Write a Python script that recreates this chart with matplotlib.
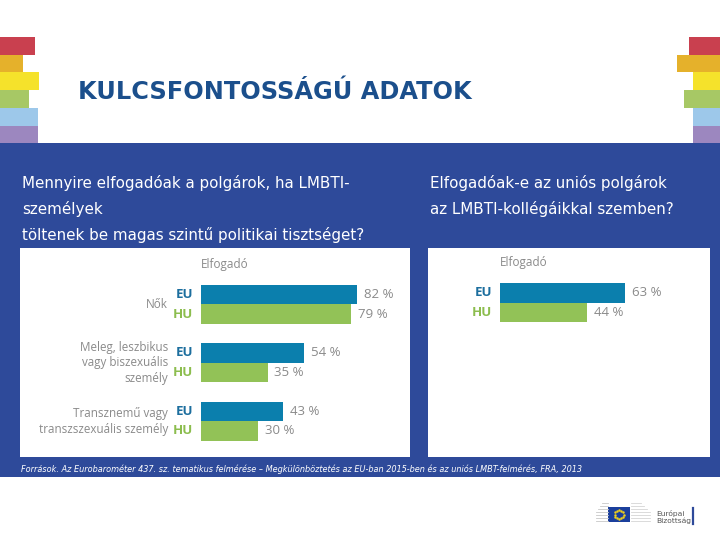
import numpy as np
import matplotlib
matplotlib.use("Agg")
import matplotlib.pyplot as plt
from matplotlib.patches import Rectangle

# -----------------------------------------------
# DATA
# -----------------------------------------------
title = "KULCSFONTOSSÁGÚ ADATOK"
question_left = ["Mennyire elfogadóak a polgárok, ha LMBTI-",
                 "személyek",
                 "töltenek be magas szintű politikai tisztséget?"]
question_right = ["Elfogadóak-e az uniós polgárok",
                  "az LMBTI-kollégáikkal szemben?"]
header = "Elfogadó"
series_names = ["EU", "HU"]

left_categories = ["Nők",
                   "Meleg, leszbikus\nvagy biszexuális\nszemély",
                   "Transznemű vagy\ntranszszexuális személy"]
left_eu = [82, 54, 43]
left_hu = [79, 35, 30]

right_eu = [63]
right_hu = [44]

source = ("Források. Az Eurobarométer 437. sz. tematikus felmérése – "
          "Megkülönböztetés az EU-ban 2015-ben és az uniós LMBT-felmérés, FRA, 2013")
logo_text = "Európai\nBizottság"

# -----------------------------------------------
# STYLE
# -----------------------------------------------
W, H = 720, 540
BLUE_BG = "#2E4A9A"
EU_BAR = "#0B7FAD"
HU_BAR = "#92C257"
EU_TXT = "#1C6E9E"
HU_TXT = "#8CBD4E"
GREY = "#8A8A8A"
STRIPES = ["#C9404F", "#E5B12B", "#F5E22B", "#A7C865", "#9DC8EA", "#9C87BF"]
LEFT_W = [35, 23, 39, 29, 38, 38]
RIGHT_X = [689, 677, 693, 684, 693, 693]

fig = plt.figure(figsize=(W / 100, H / 100), dpi=100)
bg = fig.add_axes([0, 0, 1, 1])
bg.set_xlim(0, W)
bg.set_ylim(H, 0)
bg.axis("off")

# rainbow stripes
for i, c in enumerate(STRIPES):
    y0 = 37 + i * 17.7
    bg.add_patch(Rectangle((0, y0), LEFT_W[i], 17.8, color=c, lw=0))
    bg.add_patch(Rectangle((RIGHT_X[i], y0), W - RIGHT_X[i], 17.8, color=c, lw=0))

bg.text(78, 92, title, color="#1B4F8C", fontsize=17.3, fontweight="bold",
        family="DejaVu Sans", va="center", ha="left")

# blue band + white panels
bg.add_patch(Rectangle((0, 143), W, 334, color=BLUE_BG, lw=0))
bg.add_patch(Rectangle((20, 248), 390, 209, color="white", lw=0))
bg.add_patch(Rectangle((428, 248), 282, 209, color="white", lw=0))

for i, line in enumerate(question_left):
    bg.text(22, 183 + i * 26, line, color="white", fontsize=10.9, va="center",
            family="DejaVu Sans")
for i, line in enumerate(question_right):
    bg.text(430, 183 + i * 26, line, color="white", fontsize=10.9, va="center",
            family="DejaVu Sans")

bg.text(21, 469, source, color="white", fontsize=5.85, style="italic",
        va="center", family="DejaVu Sans")

# logo
for k in range(7):
    yy = 503 + k * 3
    bg.plot([596 + max(0, 3 - k) * 2, 608], [yy, yy], color="#C8C8C8", lw=0.6)
    bg.plot([631, 650 - max(0, 3 - k) * 3], [yy, yy], color="#D5D5D5", lw=0.6)
bg.add_patch(Rectangle((608, 507), 22, 15, color="#1B3F9C", lw=0))
ang = np.linspace(0, 2 * np.pi, 13)[:-1]
bg.scatter(619 + 4.5 * np.cos(ang), 514.5 + 4.5 * np.sin(ang), s=0.6,
           color="#F2D21B", zorder=5)
bg.text(656, 517, logo_text, color="#555555", fontsize=5.4, va="center",
        linespacing=1.1)
bg.plot([693, 693], [508, 524], color=BLUE_BG, lw=1.6)


def px_axes(x0, y0, x1, y1):
    return fig.add_axes([x0 / W, 1 - y1 / H, (x1 - x0) / W, (y1 - y0) / H])


def bar_chart(ax, eu, hu, px_per_pct, cats=None):
    pos = np.arange(len(eu)) * 3
    ax.barh(pos, eu, height=1, color=EU_BAR, align="center")
    ax.barh(pos + 1, hu, height=1, color=HU_BAR, align="center")
    ax.set_xlim(0, 100)
    ax.axis("off")
    off = 7 / px_per_pct
    lab_x = -8 / px_per_pct
    for p, v in zip(pos, eu):
        ax.text(v + off, p, f"{v} %", color=GREY, fontsize=9.5, va="center",
                family="Open Sans")
        ax.text(lab_x, p, series_names[0], color=EU_TXT, fontsize=9.5,
                va="center", ha="right", family="Open Sans", fontweight="bold")
    for p, v in zip(pos, hu):
        ax.text(v + off, p + 1, f"{v} %", color=GREY, fontsize=9.5, va="center",
                family="Open Sans")
        ax.text(lab_x, p + 1, series_names[1], color=HU_TXT, fontsize=9.5,
                va="center", ha="right", family="Open Sans", fontweight="bold")
    if cats is not None:
        for p, c in zip(pos, cats):
            ax.text(-33 / px_per_pct, p + 0.5, c, color=GREY, fontsize=8.4,
                    va="center", ha="right", family="Open Sans", linespacing=1.25)
    ax.text(0, -1.55, header, color=GREY, fontsize=8.5, va="center",
            family="Open Sans")


# left chart: origin at 201 px, 1.9 px per %
axl = px_axes(201, 275, 391, 455)
bar_chart(axl, left_eu, left_hu, 1.9, left_categories)
axl.set_ylim((455 - 294.5) / 19.5, (275 - 294.5) / 19.5)

# right chart: origin at 500 px, 1.98 px per %
axr = px_axes(500, 274, 698, 455)
bar_chart(axr, right_eu, right_hu, 1.98)
axr.set_ylim((455 - 293) / 19.5, (274 - 293) / 19.5)

fig.savefig("out.png", dpi=100)
